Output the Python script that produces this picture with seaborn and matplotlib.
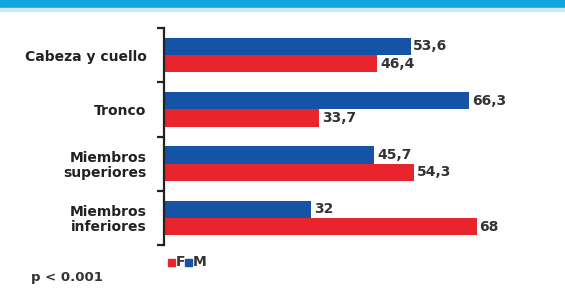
import matplotlib
matplotlib.use("Agg")
import matplotlib.pyplot as plt
import seaborn as sns
import pandas as pd
from matplotlib.patches import Rectangle

categories = ["Cabeza y cuello", "Tronco", "Miembros\nsuperiores", "Miembros\ninferiores"]
values_m = [53.6, 66.3, 45.7, 32]
values_f = [46.4, 33.7, 54.3, 68]
labels_m = ["53,6", "66,3", "45,7", "32"]
labels_f = ["46,4", "33,7", "54,3", "68"]

BLUE = "#1553a6"
RED = "#e8252d"

df = pd.DataFrame({
    "cat": categories * 2,
    "val": values_m + values_f,
    "sexo": ["M"] * 4 + ["F"] * 4,
})

sns.set_style("white")
plt.rcParams["font.family"] = ["DejaVu Sans"]

fig = plt.figure(figsize=(5.65, 2.9), dpi=100)
ax = fig.add_axes([164 / 565, (290 - 245) / 290, 400 / 565, (245 - 28) / 290])

sns.barplot(data=df, y="cat", x="val", hue="sexo", hue_order=["M", "F"],
            order=categories, palette={"M": BLUE, "F": RED}, orient="h",
            width=0.64, saturation=1, ax=ax, legend=False,
            linewidth=0, edgecolor="none")

ax.set_xlim(0, 400 / 4.6)
ax.set_ylim(3.5, -0.5)
ax.set_xlabel("")
ax.set_ylabel("")
ax.set_xticks([])
for s in ["top", "right", "bottom"]:
    ax.spines[s].set_visible(False)
ax.spines["left"].set_color("#222222")
ax.spines["left"].set_linewidth(1.6)

ax.set_yticks([-0.5, 0.5, 1.5, 2.5, 3.5])
ax.set_yticklabels([])
ax.tick_params(axis="y", which="major", left=True, length=5, width=1.6, color="#222222", direction="out")
ax.set_yticks(range(len(categories)), minor=True)
ax.set_yticklabels(categories, minor=True, fontsize=10, fontweight="bold",
                   color="#222222", linespacing=1.05)
ax.tick_params(axis="y", which="minor", length=0, pad=12.5)
for t in ax.get_yticklabels(minor=True):
    t.set_multialignment("right")

# value labels
conts = ax.containers
for cont, labs in zip(conts, [labels_m, labels_f]):
    ax.bar_label(cont, labels=labs, padding=2, fontsize=10, fontweight="bold",
                 color="#333333")

# banner
fig.patches.append(Rectangle((0, 1 - 8 / 290), 1, 8 / 290, transform=fig.transFigure,
                             color="#12a3e3", zorder=0))
fig.patches.append(Rectangle((0, 1 - 11 / 290), 1, 3 / 290, transform=fig.transFigure,
                             color="#cfe9f8", zorder=0))

# legend
fig.patches.append(Rectangle((168 / 565, (290 - 266) / 290), 7 / 565, 7 / 290,
                             transform=fig.transFigure, color=RED))
fig.text(176 / 565, (290 - 262.5) / 290, "F", fontsize=10, fontweight="bold",
         color="#333333", va="center", ha="left")
fig.patches.append(Rectangle((185 / 565, (290 - 266) / 290), 7 / 565, 7 / 290,
                             transform=fig.transFigure, color=BLUE))
fig.text(193 / 565, (290 - 262.5) / 290, "M", fontsize=10, fontweight="bold",
         color="#333333", va="center", ha="left")

fig.text(31 / 565, (290 - 278) / 290, "p < 0.001", fontsize=9.5, fontweight="bold",
         color="#333333", va="center", ha="left")

fig.savefig("out.png", dpi=100)
